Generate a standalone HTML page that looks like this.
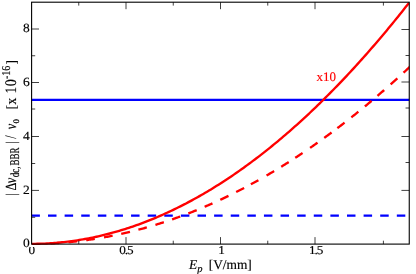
<!DOCTYPE html>
<html><head><meta charset="utf-8"><title>plot</title><style>
html,body{margin:0;padding:0;background:#fff;}
body{width:416px;height:274px;overflow:hidden;}
svg{display:block;will-change:transform;}
text{font-family:"Liberation Serif",serif;fill:#000;stroke:#000;stroke-width:0.15px;text-rendering:geometricPrecision;}
.i{font-style:italic;}
</style></head><body>
<svg width="416" height="274" viewBox="0 0 416 274">
<rect width="416" height="274" fill="#fff"/>
<defs><clipPath id="c"><rect x="31.6" y="2.2" width="377.65" height="243"/></clipPath></defs>
<g font-size="12px"><text transform="translate(28.5,253.5) scale(1.1,1)">0</text><text transform="translate(119.25,253.5) scale(1.1,1)">0<tspan dx='-1'>.</tspan><tspan dx='-1'>5</tspan></text><text transform="translate(218.3,253.5) scale(1.1,1)">1</text><text transform="translate(309.04,253.5) scale(1.1,1)">1<tspan dx='-1'>.</tspan><tspan dx='-1'>5</tspan></text></g>
<rect x="40" y="244.7" width="300" height="1.0" fill="#fff"/><rect x="29.5" y="244.7" width="8" height="2.3" fill="#fff"/>
<g font-size="12.6px" text-anchor="end"><text transform="translate(29.75,247.05) scale(1.07,1)">0</text><text transform="translate(29.75,193.76) scale(1.07,1)">2</text><text transform="translate(29.75,139.97) scale(1.07,1)">4</text><text transform="translate(29.75,86.18) scale(1.07,1)">6</text><text transform="translate(29.75,32.39) scale(1.07,1)">8</text></g>
<text x="188.9" y="268.7" font-size="13.5px"><tspan class="i">E</tspan><tspan class="i" font-size="10.5px" dy="3.4">p</tspan><tspan dy="-3.4" x="208.7" font-size="13.4px">[V/mm]</tspan></text>
<text transform="translate(316.6,80.6)" font-size="13px" style="fill:#ff0000;stroke:#ff0000">x10</text>
<text style="stroke:none" transform="translate(15.7,195.73) rotate(-90) scale(0.82,1.0)" font-size="15px">|</text><text transform="translate(15.9,190.47) rotate(-90) scale(0.82,1.03)" font-size="15px">Δ</text><text class="i" transform="translate(15.9,183.3) rotate(-90) scale(0.82,1.08)" font-size="15px">ν</text><text transform="translate(18.75,177.3) rotate(-90) scale(0.75,1.03)" font-size="12px">dc,</text><text transform="translate(18.75,165.56) rotate(-90) scale(0.75,1.12)" font-size="12px">BBR</text><text style="stroke:none" transform="translate(15.6,143.63) rotate(-90) scale(0.82,1.0)" font-size="15px">|</text><text style="stroke:none" transform="translate(15.9,138.7) rotate(-90) scale(0.82,1.08)" font-size="15px">/</text><text class="i" transform="translate(15.9,129.2) rotate(-90) scale(0.82,1.04)" font-size="15px">ν</text><text transform="translate(18.8,123.44) rotate(-90) scale(0.75,1.0)" font-size="12px">o</text><text transform="translate(16.25,109.16) rotate(-90) scale(0.82,0.93)" font-size="15px">[</text><text transform="translate(15.8,104.5) rotate(-90) scale(0.9,1.0)" font-size="15px">x</text><text transform="translate(15.9,93.2) rotate(-90) scale(0.82,1.07)" font-size="15px">1</text><text transform="translate(15.9,86.3) rotate(-90) scale(0.95,1.08)" font-size="15px">0</text><text transform="translate(10.0,79.0) rotate(-90) scale(0.835,1.0)" font-size="12px">-16</text><text transform="translate(16.25,64.5) rotate(-90) scale(0.88,0.93)" font-size="15px">]</text>
<g clip-path="url(#c)" fill="none"><line x1="31.4" y1="215.7" x2="410" y2="215.7" stroke="#0000ff" stroke-width="2.3" stroke-dasharray="8.5 8.11"/><line x1="31" y1="99.85" x2="410" y2="99.85" stroke="#0000ff" stroke-width="2.3"/><path d="M50.73,243.39 L51.82,243.34 L52.91,243.28 L54.00,243.22 L55.09,243.16 L56.19,243.10 L57.28,243.03 L58.37,242.96 L59.46,242.88 M68.45,242.16 L69.54,242.06 L70.62,241.96 L71.71,241.85 L72.79,241.74 L73.88,241.63 L74.96,241.51 L76.05,241.40 L77.13,241.28 M86.18,240.15 L87.26,240.01 L88.34,239.86 L89.42,239.70 L90.49,239.55 L91.57,239.39 L92.65,239.23 L93.73,239.06 L94.81,238.89 M104.00,237.35 L105.08,237.16 L106.16,236.96 L107.24,236.76 L108.32,236.55 L109.40,236.35 L110.48,236.14 L111.56,235.93 L112.63,235.71 M121.23,233.90 L122.32,233.65 L123.41,233.40 L124.50,233.16 L125.59,232.90 L126.69,232.65 L127.78,232.39 L128.87,232.13 L129.96,231.86 M138.40,229.72 L139.45,229.44 L140.51,229.16 L141.56,228.87 L142.62,228.58 L143.67,228.29 L144.73,228.00 L145.78,227.70 L146.84,227.40 M155.42,224.86 L156.47,224.54 L157.52,224.21 L158.57,223.88 L159.62,223.55 L160.67,223.22 L161.72,222.88 L162.77,222.54 L163.82,222.20 M172.09,219.41 L173.11,219.06 L174.12,218.70 L175.13,218.34 L176.14,217.98 L177.16,217.62 L178.17,217.25 L179.18,216.88 L180.20,216.51 M188.31,213.44 L189.36,213.04 L190.40,212.63 L191.45,212.22 L192.49,211.80 L193.54,211.38 L194.59,210.96 L195.63,210.54 L196.68,210.11 M204.63,206.79 L205.61,206.37 L206.59,205.94 L207.57,205.52 L208.55,205.09 L209.52,204.66 L210.50,204.23 L211.48,203.80 L212.46,203.36 M220.25,199.80 L221.28,199.32 L222.31,198.83 L223.34,198.34 L224.37,197.85 L225.40,197.36 L226.43,196.87 L227.46,196.37 L228.49,195.87 M236.17,192.06 L237.16,191.55 L238.16,191.04 L239.15,190.53 L240.15,190.02 L241.14,189.51 L242.14,188.99 L243.13,188.47 L244.13,187.95 M250.88,184.34 L251.82,183.83 L252.76,183.32 L253.70,182.80 L254.65,182.28 L255.59,181.76 L256.53,181.24 L257.47,180.71 L258.41,180.18 M266.54,175.54 L267.49,174.99 L268.43,174.44 L269.38,173.88 L270.32,173.33 L271.27,172.77 L272.21,172.21 L273.15,171.64 L274.10,171.08 M281.21,166.75 L282.14,166.17 L283.08,165.59 L284.01,165.01 L284.95,164.42 L285.88,163.84 L286.82,163.25 L287.75,162.66 L288.68,162.06 M295.22,157.85 L296.14,157.25 L297.06,156.65 L297.98,156.05 L298.90,155.44 L299.82,154.83 L300.73,154.22 L301.65,153.61 L302.57,152.99 M310.08,147.89 L311.02,147.24 L311.95,146.60 L312.89,145.95 L313.82,145.30 L314.76,144.64 L315.69,143.99 L316.63,143.33 L317.56,142.67 M324.24,137.88 L325.16,137.22 L326.07,136.56 L326.98,135.89 L327.90,135.22 L328.81,134.55 L329.72,133.88 L330.64,133.21 L331.55,132.53 M337.35,128.18 L338.25,127.50 L339.15,126.82 L340.05,126.13 L340.95,125.45 L341.85,124.76 L342.74,124.07 L343.64,123.38 L344.54,122.68 M351.36,117.34 L352.24,116.65 L353.12,115.95 L354.00,115.25 L354.87,114.55 L355.75,113.85 L356.63,113.15 L357.50,112.44 L358.38,111.73 M364.87,106.43 L365.72,105.73 L366.56,105.04 L367.40,104.34 L368.25,103.63 L369.09,102.93 L369.93,102.23 L370.78,101.52 L371.62,100.81 M377.48,95.84 L378.32,95.12 L379.16,94.40 L380.01,93.67 L380.85,92.95 L381.69,92.22 L382.53,91.49 L383.37,90.76 L384.21,90.02 M390.64,84.37 L391.48,83.62 L392.32,82.87 L393.16,82.12 L394.00,81.37 L394.84,80.62 L395.68,79.86 L396.52,79.11 L397.36,78.35 M403.50,72.74 L404.45,71.87 L405.40,70.99 L406.35,70.11 L407.30,69.23 L408.25,68.35 L409.20,67.46 L410.15,66.57 L411.10,65.68" stroke="#ff0000" stroke-width="2.35"/><path d="M31.50,243.85 L33.41,243.84 L35.32,243.83 L37.23,243.79 L39.14,243.75 L41.04,243.70 L42.95,243.63 L44.86,243.55 L46.77,243.46 L48.68,243.35 L50.59,243.23 L52.50,243.10 L54.41,242.96 L56.32,242.81 L58.22,242.64 L60.13,242.46 L62.04,242.27 L63.95,242.07 L65.86,241.85 L67.77,241.63 L69.68,241.38 L71.59,241.13 L73.50,240.87 L75.40,240.59 L77.31,240.30 L79.22,240.00 L81.13,239.68 L83.04,239.36 L84.95,239.02 L86.86,238.67 L88.77,238.30 L90.68,237.93 L92.58,237.54 L94.49,237.14 L96.40,236.73 L98.31,236.30 L100.22,235.86 L102.13,235.41 L104.04,234.95 L105.95,234.48 L107.86,233.99 L109.76,233.49 L111.67,232.98 L113.58,232.46 L115.49,231.92 L117.40,231.37 L119.31,230.81 L121.22,230.24 L123.13,229.65 L125.04,229.05 L126.95,228.44 L128.85,227.82 L130.76,227.19 L132.67,226.54 L134.58,225.88 L136.49,225.21 L138.40,224.52 L140.31,223.83 L142.22,223.12 L144.13,222.40 L146.03,221.66 L147.94,220.92 L149.85,220.16 L151.76,219.39 L153.67,218.61 L155.58,217.81 L157.49,217.01 L159.40,216.19 L161.31,215.35 L163.21,214.51 L165.12,213.65 L167.03,212.78 L168.94,211.90 L170.85,211.01 L172.76,210.10 L174.67,209.18 L176.58,208.25 L178.49,207.31 L180.39,206.36 L182.30,205.39 L184.21,204.41 L186.12,203.42 L188.03,202.41 L189.94,201.40 L191.85,200.37 L193.76,199.32 L195.67,198.27 L197.57,197.20 L199.48,196.13 L201.39,195.04 L203.30,193.93 L205.21,192.82 L207.12,191.69 L209.03,190.55 L210.94,189.40 L212.85,188.23 L214.75,187.05 L216.66,185.87 L218.57,184.66 L220.48,183.45 L222.39,182.22 L224.30,180.98 L226.21,179.73 L228.12,178.47 L230.03,177.19 L231.93,175.91 L233.84,174.61 L235.75,173.29 L237.66,171.97 L239.57,170.63 L241.48,169.28 L243.39,167.92 L245.30,166.55 L247.21,165.16 L249.11,163.76 L251.02,162.35 L252.93,160.92 L254.84,159.49 L256.75,158.04 L258.66,156.58 L260.57,155.11 L262.48,153.62 L264.39,152.12 L266.29,150.61 L268.20,149.09 L270.11,147.56 L272.02,146.01 L273.93,144.45 L275.84,142.88 L277.75,141.30 L279.66,139.70 L281.57,138.09 L283.47,136.47 L285.38,134.84 L287.29,133.19 L289.20,131.54 L291.11,129.87 L293.02,128.18 L294.93,126.49 L296.84,124.78 L298.75,123.06 L300.65,121.33 L302.56,119.59 L304.47,117.83 L306.38,116.06 L308.29,114.28 L310.20,112.49 L312.11,110.68 L314.02,108.86 L315.93,107.03 L317.83,105.19 L319.74,103.33 L321.65,101.47 L323.56,99.59 L325.47,97.70 L327.38,95.79 L329.29,93.88 L331.20,91.95 L333.11,90.00 L335.02,88.05 L336.92,86.09 L338.83,84.11 L340.74,82.12 L342.65,80.11 L344.56,78.10 L346.47,76.07 L348.38,74.03 L350.29,71.98 L352.20,69.91 L354.10,67.84 L356.01,65.75 L357.92,63.65 L359.83,61.53 L361.74,59.41 L363.65,57.27 L365.56,55.12 L367.47,52.95 L369.38,50.78 L371.28,48.59 L373.19,46.39 L375.10,44.18 L377.01,41.95 L378.92,39.72 L380.83,37.47 L382.74,35.21 L384.65,32.93 L386.56,30.65 L388.46,28.35 L390.37,26.04 L392.28,23.71 L394.19,21.38 L396.10,19.03 L398.01,16.67 L399.92,14.30 L401.83,11.91 L403.74,9.51 L405.64,7.10 L407.55,4.68 L409.46,2.25 L411.37,-0.20 L413.28,-2.66" stroke="#ff0000" stroke-width="2.35"/></g>
<g stroke="#000" stroke-width="0.75" fill="none"><line x1="126.0" y1="244.1" x2="126.0" y2="237.1"/><line x1="126.0" y1="2.2" x2="126.0" y2="9.2"/><line x1="220.5" y1="244.1" x2="220.5" y2="237.1"/><line x1="220.5" y1="2.2" x2="220.5" y2="9.2"/><line x1="315.0" y1="244.1" x2="315.0" y2="237.1"/><line x1="315.0" y1="2.2" x2="315.0" y2="9.2"/><line x1="78.75" y1="244.1" x2="78.75" y2="240.7"/><line x1="78.75" y1="2.2" x2="78.75" y2="5.6"/><line x1="173.25" y1="244.1" x2="173.25" y2="240.7"/><line x1="173.25" y1="2.2" x2="173.25" y2="5.6"/><line x1="267.75" y1="244.1" x2="267.75" y2="240.7"/><line x1="267.75" y1="2.2" x2="267.75" y2="5.6"/><line x1="383.4" y1="244.1" x2="383.4" y2="240.7"/><line x1="383.4" y1="2.2" x2="383.4" y2="5.6"/><line x1="31.6" y1="29.0" x2="39.0" y2="29.0"/><line x1="31.6" y1="55.75" x2="35.2" y2="55.75"/><line x1="31.6" y1="82.5" x2="39.0" y2="82.5"/><line x1="31.6" y1="109.0" x2="35.2" y2="109.0"/><line x1="31.6" y1="136.5" x2="39.0" y2="136.5"/><line x1="31.6" y1="163.5" x2="35.2" y2="163.5"/><line x1="31.6" y1="190.4" x2="39.0" y2="190.4"/><line x1="31.6" y1="217.3" x2="35.2" y2="217.3"/><line x1="409.25" y1="29.5" x2="401.45" y2="29.5"/><line x1="409.25" y1="55.5" x2="405.55" y2="55.5"/><line x1="409.25" y1="82.0" x2="401.45" y2="82.0"/><line x1="409.25" y1="108.0" x2="405.55" y2="108.0"/><line x1="409.25" y1="136.5" x2="401.45" y2="136.5"/><line x1="409.25" y1="162.5" x2="405.55" y2="162.5"/><line x1="409.25" y1="190.4" x2="401.45" y2="190.4"/></g>
<rect x="31.6" y="2.2" width="377.65" height="241.9" fill="none" stroke="#000" stroke-width="1.1"/>
</svg></body></html>
